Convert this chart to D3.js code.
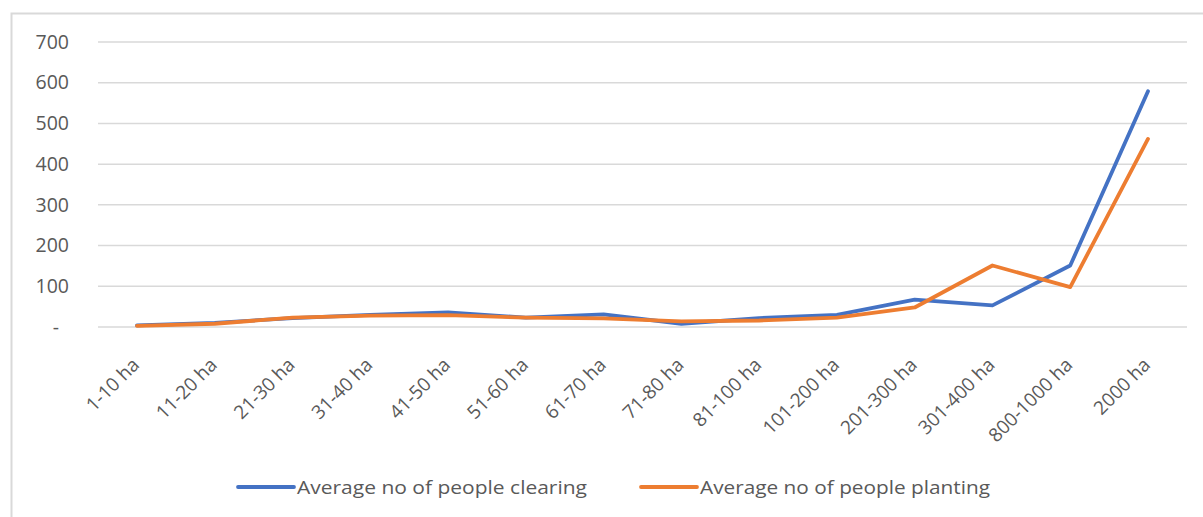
<!DOCTYPE html>
<html><head><meta charset="utf-8">
<script src="https://cdn.jsdelivr.net/npm/d3@7"></script>
<style>body{margin:0;background:#fff}svg{display:block}</style>
</head><body>
<svg id="c" width="1203" height="517"></svg>
<script>
const categories = ["1-10 ha","11-20 ha","21-30 ha","31-40 ha","41-50 ha","51-60 ha","61-70 ha","71-80 ha","81-100 ha","101-200 ha","201-300 ha","301-400 ha","800-1000 ha","2000 ha"];
const clearing = [4, 10, 22, 30, 36, 23, 31, 8, 22, 30, 67, 53, 151, 579];
const planting = [3, 8, 23, 28, 29, 23, 21, 14, 16, 23, 48, 151, 98, 462];
const yTicks = [0,100,200,300,400,500,600,700];
const seriesNames = ["Average no of people clearing","Average no of people planting"];
const colors = ["#4472C4","#ED7D31"];

const svg = d3.select("#c");
const font = "'Open Sans', sans-serif";
svg.append("rect").attr("x",11.5).attr("y",13.5).attr("width",1200).attr("height",520)
  .attr("fill","#fff").attr("stroke","#d9d9d9").attr("stroke-width",2);

const x = d3.scalePoint().domain(categories).range([137,1148]);
const y = d3.scaleLinear().domain([0,700]).range([327,42]);

const grid = svg.append("g");
grid.selectAll("line").data(yTicks).join("line")
  .attr("x1",98).attr("x2",1187).attr("y1",d=>y(d)).attr("y2",d=>y(d))
  .attr("stroke","#d9d9d9").attr("stroke-width",1.5);

const yAxis = svg.append("g").attr("transform","translate(69,0)")
  .call(d3.axisLeft(y).tickValues(yTicks).tickSize(0).tickPadding(0).tickFormat(d=>d===0?"-":d3.format(",")(d)));
yAxis.select(".domain").remove();
yAxis.selectAll("text").attr("font-family",font).attr("font-size",19.5).attr("fill","#595959")
  .attr("dx", d=>d===0?-10:0);

const xAxis = svg.append("g").attr("transform","translate(0,327)")
  .call(d3.axisBottom(x).tickSize(0).tickPadding(0));
xAxis.select(".domain").remove();
xAxis.selectAll("text").attr("font-family",font).attr("font-size",19).attr("fill","#595959")
  .attr("text-anchor","end").attr("dy",0).attr("y",0)
  .attr("transform","translate(3,39) rotate(-45)");

const line = d3.line().x((d,i)=>x(categories[i])).y(d=>y(d));
[clearing, planting].forEach((s,k)=>{
  svg.append("path").datum(s).attr("d",line).attr("fill","none")
    .attr("stroke",colors[k]).attr("stroke-width",3.8).attr("stroke-linejoin","round").attr("stroke-linecap","round");
});

const legX = [238, 641];
seriesNames.forEach((n,k)=>{
  const g = svg.append("g").attr("transform",`translate(${legX[k]},487)`);
  g.append("line").attr("x1",0).attr("x2",56).attr("stroke",colors[k]).attr("stroke-width",3.8).attr("stroke-linecap","round");
  g.append("text").attr("x",59).attr("y",6.5).attr("font-family",font).attr("font-size",18.5).attr("fill","#595959")
    .attr("textLength",290).attr("lengthAdjust","spacingAndGlyphs").text(n);
});
</script>
</body></html>
